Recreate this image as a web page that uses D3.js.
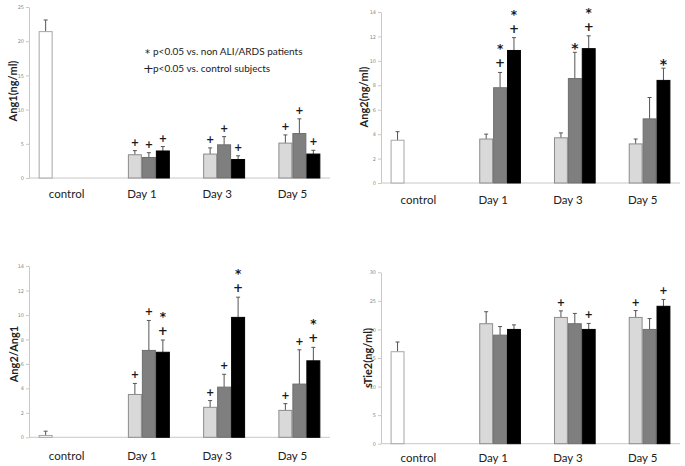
<!DOCTYPE html>
<html>
<head>
<meta charset="utf-8">
<script src="https://cdn.jsdelivr.net/npm/d3@7"></script>
<style>
  html, body { margin: 0; padding: 0; background: #fff; }
  svg { display: block; }
  text { font-family: Lato, "Open Sans", "DejaVu Sans", sans-serif; }
  text.sig { font-family: "DejaVu Sans", sans-serif; }
  text.vert { writing-mode: vertical-rl; text-orientation: upright; }
</style>
</head>
<body>
<svg id="chart" width="685" height="466"></svg>
<script>
// ---------- DATA ----------
const categories = ["control", "Day 1", "Day 3", "Day 5"];
const days = ["Day 1", "Day 3", "Day 5"];
const seriesNames = ["control subjects", "non ALI/ARDS", "ALI", "ARDS"];

// Ang1 (ng/ml)
const ang1Control = 21.4, ang1ControlErr = 23.1;
const ang1Light = [3.4, 3.5, 5.1], ang1LightErr = [4.0, 4.4, 6.3];
const ang1Gray = [3.0, 4.85, 6.5], ang1GrayErr = [3.7, 6.05, 8.65];
const ang1Black = [3.95, 2.7, 3.5], ang1BlackErr = [4.6, 3.25, 4.05];
const ang1SigLight = ["+", "+", "+"], ang1SigGray = ["+", "+", "+"], ang1SigBlack = ["+", "+", "+"];
const ang1Ticks = [0, 5, 10, 15, 20, 25];

// Ang2 (ng/ml)
const ang2Control = 3.5, ang2ControlErr = 4.2;
const ang2Light = [3.6, 3.7, 3.2], ang2LightErr = [4.0, 4.1, 3.6];
const ang2Gray = [7.8, 8.55, 5.25], ang2GrayErr = [9.05, 10.7, 7.0];
const ang2Black = [10.85, 11.0, 8.4], ang2BlackErr = [11.9, 12.05, 9.4];
const ang2SigLight = ["", "", ""], ang2SigGray = ["*+", "*", ""], ang2SigBlack = ["*+", "*+", "*"];
const ang2Ticks = [0, 2, 4, 6, 8, 10, 12, 14];

// Ang2/Ang1
const ratioControl = 0.15, ratioControlErr = 0.5;
const ratioLight = [3.5, 2.45, 2.2], ratioLightErr = [4.4, 3.0, 2.75];
const ratioGray = [7.1, 4.1, 4.35], ratioGrayErr = [9.55, 5.15, 7.15];
const ratioBlack = [6.95, 9.8, 6.25], ratioBlackErr = [7.95, 11.45, 7.35];
const ratioSigLight = ["+", "+", "+"], ratioSigGray = ["+", "+", "+"], ratioSigBlack = ["*+", "*+", "*+"];
const ratioTicks = [0, 2, 4, 6, 8, 10, 12, 14];

// sTie2 (ng/ml)
const tieControl = 16.1, tieControlErr = 17.8;
const tieLight = [21.0, 22.1, 22.1], tieLightErr = [23.1, 23.25, 23.3];
const tieGray = [19.0, 21.0, 20.0], tieGrayErr = [20.5, 22.8, 21.9];
const tieBlack = [20.0, 20.0, 24.05], tieBlackErr = [20.8, 21.05, 25.25];
const tieSigLight = ["", "+", "+"], tieSigGray = ["", "", ""], tieSigBlack = ["", "+", "+"];
const tieTicks = [0, 5, 10, 15, 20, 25, 30];

const legendLines = ["p<0.05 vs. non ALI/ARDS patients", "p<0.05 vs. control subjects"];
const legendSymbols = ["*", "+"];

// ---------- STYLE / LAYOUT ----------
const fills = ["#ffffff", "#d9d9d9", "#7f7f7f", "#000000"];
const strokes = ["#a6a6a6", "#8c8c8c", "#6e6e6e", "#000000"];

const panels = [
  { title: "Ang1(ng/ml)", left: 29, right: 330, y0: 178, yTop: 7, max: 25, ticks: ang1Ticks,
    titleX: 12, titleY: 91, labelY: 193,
    control: ang1Control, controlErr: ang1ControlErr,
    vals: [ang1Light, ang1Gray, ang1Black], errs: [ang1LightErr, ang1GrayErr, ang1BlackErr],
    sigs: [ang1SigLight, ang1SigGray, ang1SigBlack] },
  { title: "Ang2(ng/ml)", left: 381, right: 680, y0: 183, yTop: 12, max: 14, ticks: ang2Ticks,
    titleX: 363, titleY: 97, labelY: 199,
    control: ang2Control, controlErr: ang2ControlErr,
    vals: [ang2Light, ang2Gray, ang2Black], errs: [ang2LightErr, ang2GrayErr, ang2BlackErr],
    sigs: [ang2SigLight, ang2SigGray, ang2SigBlack] },
  { title: "Ang2/Ang1", left: 29, right: 330, y0: 437.3, yTop: 266, max: 14, ticks: ratioTicks,
    titleX: 13, titleY: 354, labelY: 455,
    control: ratioControl, controlErr: ratioControlErr,
    vals: [ratioLight, ratioGray, ratioBlack], errs: [ratioLightErr, ratioGrayErr, ratioBlackErr],
    sigs: [ratioSigLight, ratioSigGray, ratioSigBlack] },
  { title: "sTie2(ng/ml)", left: 381, right: 680, y0: 443.7, yTop: 272.3, max: 30, ticks: tieTicks,
    titleX: 367, titleY: 358, labelY: 457,
    control: tieControl, controlErr: tieControlErr,
    vals: [tieLight, tieGray, tieBlack], errs: [tieLightErr, tieGrayErr, tieBlackErr],
    sigs: [tieSigLight, tieSigGray, tieSigBlack] }
];

const svg = d3.select("#chart");

panels.forEach(p => {
  const g = svg.append("g");
  const x0 = d3.scaleBand().domain(categories).range([p.left, p.right]).paddingInner(0).paddingOuter(0);
  const x1 = d3.scaleBand().domain(seriesNames).range([0, x0.bandwidth()]).paddingInner(0).paddingOuter(0.69);
  const y = d3.scaleLinear().domain([0, p.max]).range([p.y0, p.yTop]);

  // y axis
  const ax = g.append("g").attr("transform", `translate(${p.left},0)`)
    .call(d3.axisLeft(y).tickValues(p.ticks).tickSize(3).tickPadding(2).tickSizeOuter(0));
  ax.select(".domain").attr("stroke", "#c8c8c8");
  ax.selectAll(".tick line").attr("stroke", "#c8c8c8");
  ax.selectAll(".tick text").attr("fill", "#8a8a8a").style("font-size", "5px")
    .style("font-family", "'DejaVu Sans', sans-serif");

  // x axis line
  g.append("line").attr("x1", p.left).attr("x2", p.right).attr("y1", y(0)).attr("y2", y(0))
    .attr("stroke", "#c8c8c8").attr("stroke-width", 1);

  // category labels
  g.selectAll("text.cat").data(categories).enter().append("text").attr("class", "cat")
    .attr("x", d => x0(d) + x0.bandwidth() / 2).attr("y", p.labelY)
    .attr("text-anchor", "middle").attr("dominant-baseline", "central")
    .style("font-size", "11.5px").attr("fill", "#222").text(d => d);

  // y title
  g.append("text").attr("transform", `translate(${p.titleX},${p.titleY}) rotate(-90)`)
    .attr("text-anchor", "middle").attr("dominant-baseline", "central")
    .style("font-size", "11px").style("font-weight", "bold").attr("fill", "#222").text(p.title);

  // build bar records
  const bars = [{ cat: "control", s: 0, v: p.control, e: p.controlErr, sig: "" }];
  days.forEach((d, i) => {
    for (let s = 0; s < 3; s++) {
      bars.push({ cat: d, s: s + 1, v: p.vals[s][i], e: p.errs[s][i], sig: p.sigs[s][i] });
    }
  });

  const bx = d => x0(d.cat) + x1(seriesNames[d.s]);
  const bw = x1.bandwidth();

  // error bars
  bars.forEach(d => {
    const cx = bx(d) + bw / 2;
    g.append("line").attr("x1", cx).attr("x2", cx).attr("y1", y(d.v)).attr("y2", y(d.e))
      .attr("stroke", "#555").attr("stroke-width", 1);
    g.append("line").attr("x1", cx - 2).attr("x2", cx + 2).attr("y1", y(d.e)).attr("y2", y(d.e))
      .attr("stroke", "#555").attr("stroke-width", 1);
  });

  g.selectAll("rect.bar").data(bars).enter().append("rect").attr("class", "bar")
    .attr("x", d => bx(d) + 0.5).attr("width", bw - 1)
    .attr("y", d => y(d.v)).attr("height", d => y(0) - y(d.v))
    .attr("fill", d => fills[d.s]).attr("stroke", d => strokes[d.s]).attr("stroke-width", 1);

  // significance marks
  bars.forEach(d => {
    if (!d.sig) return;
    const cx = bx(d) + bw / 2;
    const top = y(d.e);
    if (d.sig === "+") {
      g.append("text").attr("class", "sig").attr("x", cx).attr("y", top - 5)
        .attr("text-anchor", "middle").style("font-size", "10px").style("font-weight", "bold")
        .attr("fill", "#1a1a1a").text("+");
    } else if (d.sig === "*") {
      g.append("text").attr("class", "sig").attr("x", cx).attr("y", top + 1)
        .attr("text-anchor", "middle").style("font-size", "14px").style("font-weight", "bold")
        .attr("fill", "#1a1a1a").text("*");
    } else {
      // stacked "*" over "+" as one vertical text
      g.append("text").attr("class", "sig vert").attr("x", cx).attr("y", top - 2)
        .attr("text-anchor", "end").style("font-size", "12px").style("font-weight", "bold")
        .attr("fill", "#1a1a1a").text(d.sig);
    }
  });
});

// legend (in first panel)
const lg = svg.append("g");
legendLines.forEach((t, i) => {
  const yy = 51 + i * 17;
  const txt = lg.append("text").attr("y", yy).attr("dominant-baseline", "central").attr("fill", "#222");
  txt.append("tspan").attr("x", i === 0 ? 145 : 143)
    .attr("dy", i === 0 ? 2 : 0)
    .style("font-family", "'DejaVu Sans', sans-serif")
    .style("font-size", i === 0 ? "10px" : "13px").text(legendSymbols[i]);
  txt.append("tspan").attr("x", 153).attr("dy", i === 0 ? -2 : 0).style("font-size", "10px").text(t);
});
</script>
</body>
</html>
